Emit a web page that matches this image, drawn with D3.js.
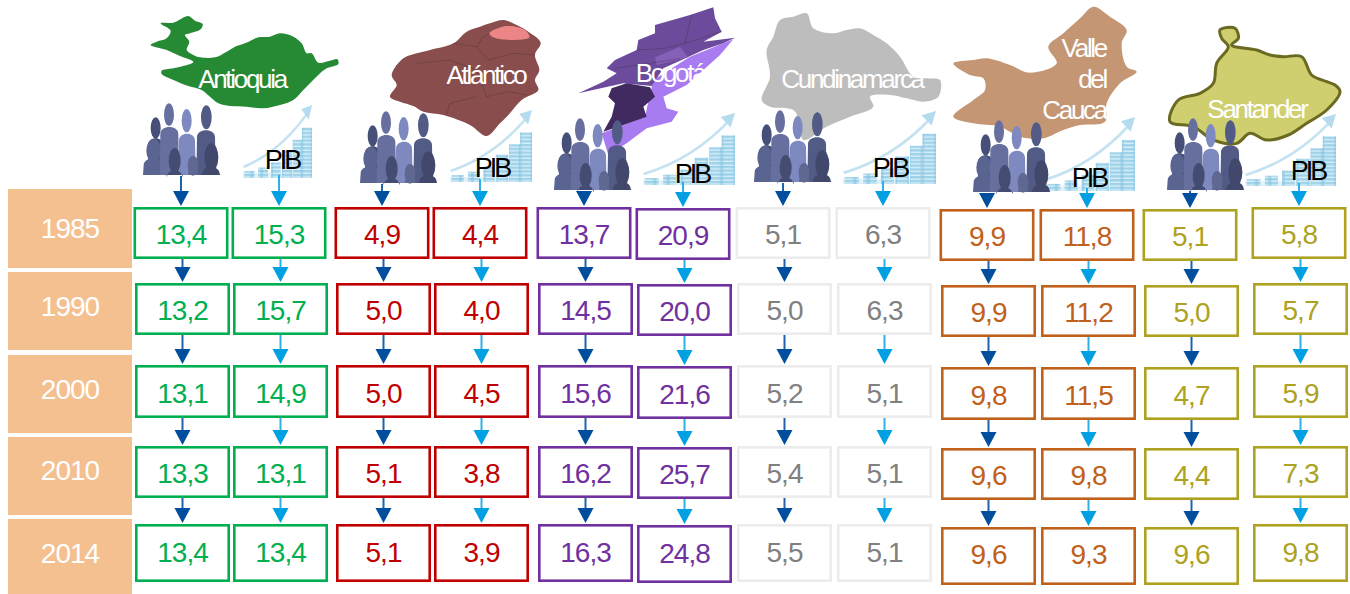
<!DOCTYPE html>
<html>
<head>
<meta charset="utf-8">
<script src="https://cdn.jsdelivr.net/npm/d3@7"></script>
<style>
  html, body { margin: 0; padding: 0; background: #fff; }
  svg { display: block; font-family: "Liberation Sans", Arial, sans-serif; }
</style>
</head>
<body>
<div id="chart"></div>
<script>
const years = ["1985", "1990", "2000", "2010", "2014"];
const departments = ["Antioquia", "Atlántico", "Bogotá", "Cundinamarca", "Valle del Cauca", "Santander"];
const indicators = ["poblacion", "pib"];

// share of national total (one array per department)
const antioquiaPoblacion = ["13,4", "13,2", "13,1", "13,3", "13,4"];
const antioquiaPib = ["15,3", "15,7", "14,9", "13,1", "13,4"];
const atlanticoPoblacion = ["4,9", "5,0", "5,0", "5,1", "5,1"];
const atlanticoPib = ["4,4", "4,0", "4,5", "3,8", "3,9"];
const bogotaPoblacion = ["13,7", "14,5", "15,6", "16,2", "16,3"];
const bogotaPib = ["20,9", "20,0", "21,6", "25,7", "24,8"];
const cundinamarcaPoblacion = ["5,1", "5,0", "5,2", "5,4", "5,5"];
const cundinamarcaPib = ["6,3", "6,3", "5,1", "5,1", "5,1"];
const vallePoblacion = ["9,9", "9,9", "9,8", "9,6", "9,6"];
const vallePib = ["11,8", "11,2", "11,5", "9,8", "9,3"];
const santanderPoblacion = ["5,1", "5,0", "4,7", "4,4", "9,6"];
const santanderPib = ["5,8", "5,7", "5,9", "7,3", "9,8"];

const columns = [
  antioquiaPoblacion, antioquiaPib, atlanticoPoblacion, atlanticoPib,
  bogotaPoblacion, bogotaPib, cundinamarcaPoblacion, cundinamarcaPib,
  vallePoblacion, vallePib, santanderPoblacion, santanderPib,
];

const width = 1350;
const height = 594;

// the boxes sit on a hand placed grid, so the scales are ordinal
const columnIds = d3.range(columns.length);
const x = d3.scaleOrdinal()
  .domain(columnIds)
  .range([135, 233, 336, 434, 538, 637, 737, 837, 941, 1041, 1144, 1253]);
const rowTop = d3.scaleOrdinal().domain(years).range([207, 283, 365, 446, 524]);
const rowHeight = d3.scaleOrdinal().domain(years).range([52, 52, 53, 52, 58]);
const rowBaseline = d3.scaleOrdinal().domain(years).range([243.5, 320, 402.5, 483, 562]);
const columnDrop = d3.scaleOrdinal().domain(columnIds).range([0, 0, 0, 0, 0, 1, 0, 0, 2, 2, 2, 0]);
const boxWidth = 95;

const yearTop = d3.scaleOrdinal().domain(years).range([189, 272, 355, 437, 519]);
const yearBottom = d3.scaleOrdinal().domain(years).range([268, 350, 433, 515, 594]);
const yearBaseline = d3.scaleOrdinal().domain(years).range([238, 316, 399, 480, 563]);

const colorOf = d3.scaleOrdinal().domain(departments)
  .range(["#00b050", "#c00000", "#7030a0", "#ececec", "#c0601a", "#ada222"]);
const textColorOf = d3.scaleOrdinal().domain(departments)
  .range(["#00b050", "#c00000", "#7030a0", "#808080", "#c0601a", "#ada222"]);
const arrowColorOf = d3.scaleOrdinal().domain(indicators).range(["#004e9e", "#00a0e3"]);
const arrowLineOf = d3.scaleOrdinal().domain(indicators).range(["#1f62ab", "#2cb0e8"]);

// traced outlines, in 3x crop units
const mapAntioquia = [[92,70],[130,68],[175,48],[195,62],[218,72],[212,88],[180,100],[165,105],[178,125],[170,150],[190,165],[210,172],[255,172],[290,155],[315,140],[345,130],[385,112],[420,110],[450,100],[490,110],[515,130],[530,160],[545,160],[565,188],[600,182],[622,178],[625,192],[590,205],[565,225],[540,250],[515,275],[490,300],[450,315],[400,325],[350,320],[300,318],[265,310],[240,290],[215,270],[175,258],[130,240],[95,222],[95,212],[130,205],[190,186],[150,168],[110,150],[62,135],[80,125],[110,115],[122,92]];
const mapAtlantico = [[780,290],[800,255],[785,225],[820,175],[860,160],[900,150],[970,130],[1010,95],[1050,80],[1080,70],[1120,60],[1160,75],[1195,95],[1232,128],[1215,165],[1228,210],[1215,240],[1225,270],[1175,300],[1135,345],[1110,370],[1070,408],[1020,375],[940,345],[880,335],[850,318],[810,305]];
const mapAtlanticoPatch = [[1078,100],[1130,78],[1185,90],[1198,112],[1140,120],[1090,112]];
const mapBogotaTop = [[345,75],[450,45],[520,22],[525,55],[545,95],[490,125],[585,113],[550,130],[490,150],[430,178],[370,205],[335,258],[250,250],[115,280],[190,245],[230,220],[200,205],[225,180],[290,150],[295,120],[345,100]];
const mapBogotaLight = [[580,118],[450,170],[340,240],[315,350],[185,400],[205,465],[260,430],[320,385],[395,365],[415,335],[380,325],[370,290],[440,255],[490,210],[540,165]];
const mapBogotaDark = [[215,265],[260,250],[330,262],[345,290],[310,320],[320,350],[250,375],[190,395],[215,350],[225,310],[205,290]];
const mapBogotaMid = [[345,172],[420,140],[445,172],[350,195]];
const mapCundinamarca = [[720,60],[760,50],[800,40],[820,85],[880,100],[920,90],[960,85],[1000,105],[1040,130],[1080,170],[1120,230],[1160,235],[1200,240],[1195,290],[1150,305],[1100,295],[1050,285],[990,290],[1000,320],[930,350],[860,380],[790,420],[780,370],[760,330],[690,320],[665,300],[690,230],[680,150],[700,110]];
const mapValle = [[70,190],[130,180],[170,175],[240,195],[300,218],[380,190],[355,140],[400,100],[450,55],[490,20],[540,50],[590,90],[575,130],[590,200],[620,215],[570,250],[530,310],[525,365],[450,375],[400,390],[340,415],[270,410],[210,380],[130,370],[70,350],[130,300],[165,270],[160,235],[120,225]];
const mapSantander = [[870,90],[915,85],[925,115],[905,135],[980,150],[1020,165],[1060,170],[1115,170],[1145,225],[1190,245],[1215,255],[1230,275],[1190,330],[1130,370],[1075,405],[1010,420],[960,400],[920,430],[850,420],[790,380],[720,365],[745,300],[810,280],[850,250],[860,190],[895,140],[875,115]];

// thin district lines on the two maps that show them
const linesAtlantico = [
  [[970,130],[1040,140],[1075,180],[1150,160],[1215,165]],
  [[860,190],[960,180],[1040,210],[1070,290],[1135,275],[1190,285]],
  [[950,345],[960,310],[1040,290]],
  [[1040,140],[1060,110],[1078,100]],
];
const linesBogota = [
  [[455,45],[435,130]],
  [[290,150],[375,145],[435,130],[545,95]],
  [[225,205],[330,190],[420,175]],
];

// one entry per department: map layers plus where its text and icons go
const headers = [
  { name: "Antioquia", origin: 130, shapes: [[mapAntioquia, "#258a36"]],
    label: [{ t: "Antioquia", x: 242, y: 88 }], people: [143, 104], coins: [243, 105, 69, 73], pib: [282, 169] },
  { name: "Atlántico", origin: 130, shapes: [[mapAtlantico, "#8a4e4e"], [mapAtlanticoPatch, "#ec8585"]], lines: linesAtlantico,
    label: [{ t: "Atlántico", x: 486, y: 84 }], people: [360, 112], coins: [450, 110, 82, 72], pib: [492, 177] },
  { name: "Bogotá", origin: 540, angular: true, shapes: [[mapBogotaLight, "#a87bf0"], [mapBogotaTop, "#6c4c9c"], [mapBogotaDark, "#3f2a5e"], [mapBogotaMid, "#8460b8"]], lines: linesBogota,
    label: [{ t: "Bogotá", x: 670, y: 82 }], people: [554, 119], coins: [643, 113, 92, 72], pib: [692, 183] },
  { name: "Cundinamarca", origin: 540, shapes: [[mapCundinamarca, "#bdbdbd"]],
    label: [{ t: "Cundinamarca", x: 852, y: 88 }], people: [754, 111], coins: [843, 111, 93, 73], pib: [890, 177] },
  { name: "Valle del Cauca", origin: 930, shapes: [[mapValle, "#c49673"]],
    label: [{ t: "Valle", x: 1106, y: 57, end: true }, { t: "del", x: 1106, y: 88, end: true }, { t: "Cauca", x: 1106, y: 119, end: true }],
    people: [973, 121], coins: [1045, 117, 90, 74], pib: [1089, 187] },
  { name: "Santander", origin: 930, shapes: [[mapSantander, "#cfcf6f"]], edge: "#6a6a20",
    label: [{ t: "Santander", x: 1257, y: 118 }], people: [1167, 119], coins: [1245, 114, 91, 72], pib: [1308, 180] },
];

// people icon: head ellipses and torsos, in a 232 x 213 box
const figures = [
  { head: [38, 72, 15, 32], body: [14, 100, 62, 213], fill: "#454f78" },
  { head: [32, 140, 22, 36], body: [0, 160, 66, 213], fill: "#5a6490" },
  { head: [78, 32, 15, 34], body: [50, 66, 108, 213], fill: "#666f9e" },
  { head: [131, 50, 15, 35], body: [106, 86, 158, 213], fill: "#7e8abf" },
  { head: [190, 40, 16, 36], body: [160, 76, 218, 213], fill: "#525b85" },
  { head: [95, 170, 18, 38], body: [70, 196, 120, 213], fill: "#454c72" },
  { head: [150, 185, 16, 30], body: [134, 186, 168, 213], fill: "#5f6891" },
  { head: [205, 160, 21, 42], body: [176, 186, 232, 213], fill: "#41486c" },
];

// coin stacks: left, width, height, in a 275 x 210 box
const stacks = [[5,42,20],[60,40,30],[112,38,45],[155,40,80],[198,38,110],[235,40,145]];

const svg = d3.select("#chart").append("svg")
  .attr("width", width)
  .attr("height", height);

const defs = svg.append("defs");
defs.append("filter").attr("id", "soft")
  .append("feGaussianBlur").attr("stdDeviation", 1.6);
const coinPattern = defs.append("pattern")
  .attr("id", "coins")
  .attr("patternUnits", "userSpaceOnUse")
  .attr("width", 40)
  .attr("height", 11);
coinPattern.append("rect").attr("width", 40).attr("height", 11).attr("fill", "#9fd2e9");
coinPattern.append("rect").attr("y", 7).attr("width", 40).attr("height", 4).attr("fill", "#d8eff9");
coinPattern.append("rect").attr("x", 30).attr("width", 10).attr("height", 11).attr("fill", "#7fc1e0").attr("opacity", 0.5);

const smoothLine = d3.line().curve(d3.curveCatmullRomClosed);
const angularLine = d3.line().curve(d3.curveLinearClosed);
const openLine = d3.line();

// year blocks
svg.append("g").selectAll("rect")
  .data(years)
  .join("rect")
  .attr("x", 8)
  .attr("width", 124)
  .attr("y", (d) => yearTop(d))
  .attr("height", (d) => yearBottom(d) - yearTop(d))
  .attr("fill", "#f5c08f");

svg.append("g").selectAll("text")
  .data(years)
  .join("text")
  .attr("x", 70)
  .attr("y", (d) => yearBaseline(d))
  .attr("text-anchor", "middle")
  .attr("font-size", 28)
  .attr("letter-spacing", -1)
  .attr("fill", "#fff")
  .text((d) => d);

// maps first so that the icons lie on top of them
headers.forEach((h) => {
  const g = svg.append("g")
    .attr("transform", `translate(${h.origin},0) scale(${1 / 3})`)
    .attr("filter", "url(#soft)");
  h.shapes.forEach(([points, fill]) => {
    g.append("path")
      .attr("d", (h.angular ? angularLine : smoothLine)(points))
      .attr("fill", fill)
      .attr("stroke", h.edge || "none")
      .attr("stroke-width", h.edge ? 9 : 0)
      .attr("stroke-linejoin", "round");
  });
  (h.lines || []).forEach((points) => {
    g.append("path")
      .attr("d", openLine(points))
      .attr("fill", "none")
      .attr("stroke", "#3b2333")
      .attr("stroke-opacity", 0.4)
      .attr("stroke-width", 2.5);
  });
});

const drawPeople = function (parent, left, top) {
  const g = parent.append("g").attr("transform", `translate(${left},${top}) scale(${1 / 3})`);
  figures.forEach((f) => {
    g.append("ellipse")
      .attr("cx", f.head[0]).attr("cy", f.head[1])
      .attr("rx", f.head[2]).attr("ry", f.head[3])
      .attr("fill", f.fill);
    const [x0, y0, x1, y1] = f.body;
    g.append("path")
      .attr("d", `M${x0},${y1}L${x0 + 2},${y0 + 24}C${x0 + 2},${y0 - 4} ${x1 - 2},${y0 - 4} ${x1 - 2},${y0 + 24}L${x1},${y1}Z`)
      .attr("fill", f.fill);
  });
};

const drawCoins = function (parent, box) {
  const [left, top, w, h] = box;
  const g = parent.append("g").attr("transform", `translate(${left},${top}) scale(${w / 275},${h / 210})`);
  g.append("rect")
    .attr("y", 195).attr("width", 275).attr("height", 15)
    .attr("fill", "#e3f2f9");
  g.selectAll("rect.stack")
    .data(stacks)
    .join("rect")
    .attr("class", "stack")
    .attr("x", (d) => d[0])
    .attr("width", (d) => d[1])
    .attr("y", (d) => 210 - d[2])
    .attr("height", (d) => d[2])
    .attr("fill", "url(#coins)");
  g.append("path")
    .attr("d", "M2,178Q150,135 262,18")
    .attr("fill", "none")
    .attr("stroke", "#c4e2f1")
    .attr("stroke-width", 8);
  g.append("path")
    .attr("d", "M275,0L232,12L262,42Z")
    .attr("fill", "#b5dcee");
};

headers.forEach((h) => {
  const g = svg.append("g");
  drawCoins(g, h.coins);
  drawPeople(g, h.people[0], h.people[1]);
  g.selectAll("text.dept")
    .data(h.label)
    .join("text")
    .attr("class", "dept")
    .attr("x", (d) => d.x)
    .attr("y", (d) => d.y)
    .attr("text-anchor", (d) => (d.end ? "end" : "middle"))
    .attr("font-size", 26)
    .attr("letter-spacing", -2.3)
    .attr("fill", "#fff")
    .text((d) => d.t);
  g.append("text")
    .attr("x", h.pib[0])
    .attr("y", h.pib[1])
    .attr("text-anchor", "middle")
    .attr("font-size", 27)
    .attr("letter-spacing", -3)
    .attr("fill", "#000")
    .text("PIB");
});

// boxes and arrows
const cells = columnIds.flatMap((c) =>
  years.map((year, r) => ({
    column: c,
    row: r,
    year: year,
    value: columns[c][r],
    department: departments[Math.floor(c / 2)],
    indicator: indicators[c % 2],
  })),
);

const boxTop = (d) => rowTop(d.year) + columnDrop(d.column) + (d.year == "2014" && columnDrop(d.column) == 2 ? 1 : 0);
const boxCenter = (d) => x(d.column) + boxWidth / 2 - (d.row == 0 ? 1.5 : 0);
const arrowStart = function (d) {
  if (d.row > 0) {
    const prev = years[d.row - 1];
    return rowTop(prev) + rowHeight(prev) + columnDrop(d.column);
  }
  const h = headers[Math.floor(d.column / 2)];
  return (d.column % 2 == 0 ? h.people[1] + 71 : h.coins[1] + h.coins[3] - 4) + 1;
};

const arrows = svg.append("g").selectAll("g").data(cells).join("g");
arrows.append("line")
  .attr("x1", boxCenter)
  .attr("x2", boxCenter)
  .attr("y1", arrowStart)
  .attr("y2", (d) => boxTop(d) - 14)
  .attr("stroke", (d) => arrowLineOf(d.indicator))
  .attr("stroke-width", 2);
arrows.append("path")
  .attr("d", (d) => {
    const cx = boxCenter(d);
    const tip = boxTop(d) - 1;
    return `M${cx - 8},${tip - 15}L${cx + 8},${tip - 15}L${cx},${tip}Z`;
  })
  .attr("fill", (d) => arrowColorOf(d.indicator));

svg.append("g").selectAll("rect")
  .data(cells)
  .join("rect")
  .attr("x", (d) => x(d.column) + 1.3 - (d.row == 0 ? 1.5 : 0))
  .attr("y", (d) => boxTop(d) + 1.3)
  .attr("width", boxWidth - 2.6)
  .attr("height", (d) => rowHeight(d.year) - 2.6)
  .attr("fill", "#fff")
  .attr("stroke", (d) => colorOf(d.department))
  .attr("stroke-width", 2.6);

svg.append("g").selectAll("text")
  .data(cells)
  .join("text")
  .attr("x", boxCenter)
  .attr("y", (d) => rowBaseline(d.year) + columnDrop(d.column))
  .attr("text-anchor", "middle")
  .attr("font-size", 28)
  .attr("letter-spacing", -1)
  .attr("fill", (d) => textColorOf(d.department))
  .text((d) => d.value);
</script>
</body>
</html>
